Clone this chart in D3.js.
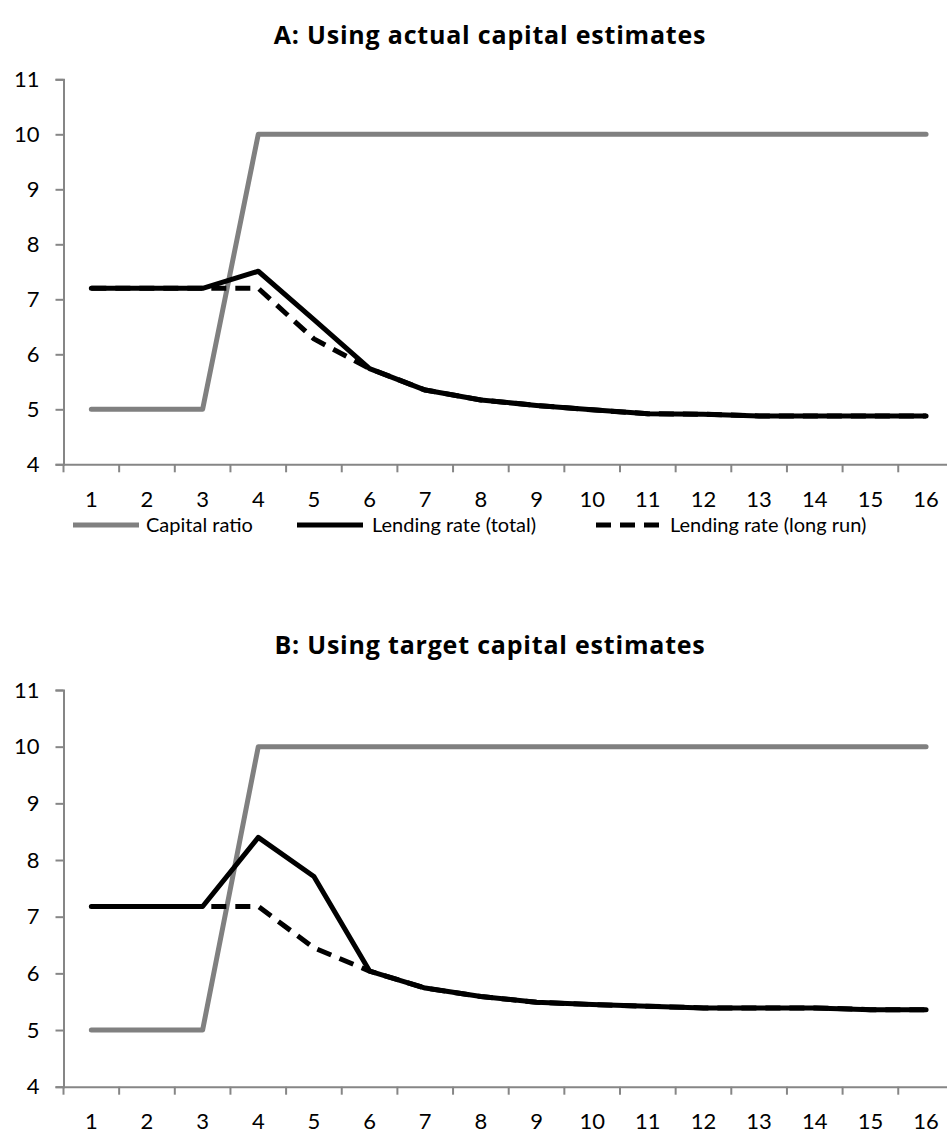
<!DOCTYPE html>
<html><head><meta charset="utf-8">
<script src="https://cdn.jsdelivr.net/npm/d3@7"></script>
<style>
body{margin:0;background:#fff;}
svg{display:block;font-family:Lato,"Open Sans",sans-serif;}
</style></head>
<body><svg id="c" width="947" height="1133"></svg>
<script>
const periods = [1,2,3,4,5,6,7,8,9,10,11,12,13,14,15,16];
const yTicks = [4,5,6,7,8,9,10,11];
const seriesNames = ["Capital ratio","Lending rate (total)","Lending rate (long run)"];
const titles = ["A: Using actual capital estimates","B: Using target capital estimates"];

const capitalA = [5,5,5,10,10,10,10,10,10,10,10,10,10,10,10,10];
const totalA   = [7.2,7.2,7.2,7.51,6.63,5.74,5.35,5.17,5.07,4.99,4.92,4.91,4.88,4.88,4.88,4.88];
const longA    = [7.2,7.2,7.2,7.2,6.28,5.74,5.35,5.17,5.07,4.99,4.92,4.91,4.88,4.88,4.88,4.88];

const capitalB = [5,5,5,10,10,10,10,10,10,10,10,10,10,10,10,10];
const totalB   = [7.18,7.18,7.18,8.4,7.71,6.04,5.74,5.59,5.49,5.45,5.42,5.39,5.39,5.39,5.36,5.36];
const longB    = [7.18,7.18,7.18,7.18,6.45,6.04,5.74,5.59,5.49,5.45,5.42,5.39,5.39,5.39,5.36,5.36];

const svg = d3.select("#c");
const axisColor = "#868686";
const styles = [
  {color:"#808080", dash:null},
  {color:"#000", dash:null},
  {color:"#000", dash:"15,9"}
];

function panel(title, titleY, yTop, yBottom, data){
  const x = d3.scaleBand().domain(periods).range([63.5, 953.9]);
  const y = d3.scaleLinear().domain([4,11]).range([yBottom, yTop]);
  const g = svg.append("g");
  g.append("text").attr("x",490).attr("y",titleY).attr("text-anchor","middle")
    .attr("font-size",25).attr("font-weight","bold").attr("fill","#000")
    .attr("letter-spacing",0.8)
    .attr("font-family","'Open Sans',sans-serif").text(title);

  // y axis
  const ya = g.append("g").attr("transform",`translate(${x.range()[0]},0)`)
    .call(d3.axisLeft(y).tickValues(yTicks).tickSize(8).tickPadding(16).tickFormat(d3.format("d")));
  ya.selectAll("path,line").attr("stroke",axisColor).attr("stroke-width",2);
  ya.selectAll("text").attr("font-size",22).attr("fill","#000").attr("font-family","Lato,sans-serif");

  // x axis: labels at band centres, ticks at band boundaries
  const xa = g.append("g").attr("transform",`translate(0,${yBottom})`)
    .call(d3.axisBottom(x).tickSize(0).tickPadding(27));
  xa.select(".domain").attr("stroke",axisColor).attr("stroke-width",2);
  xa.selectAll("text").attr("font-size",22).attr("fill","#000").attr("font-family","Lato,sans-serif");
  g.selectAll(".xt").data(periods).enter().append("line")
    .attr("x1",d=>x(d)).attr("x2",d=>x(d))
    .attr("y1",yBottom).attr("y2",yBottom+8)
    .attr("stroke",axisColor).attr("stroke-width",2);

  const line = d3.line().x((d,i)=>x(periods[i])+x.bandwidth()/2).y(d=>y(d));
  data.forEach((s,k)=>{
    g.append("path").datum(s).attr("d",line).attr("fill","none")
      .attr("stroke",styles[k].color).attr("stroke-width",5)
      .attr("stroke-linejoin","round").attr("stroke-linecap", styles[k].dash ? "butt" : "round")
      .attr("stroke-dasharray",styles[k].dash);
  });
}

panel(titles[0], 44, 79.3, 464.3, [capitalA,totalA,longA]);
panel(titles[1], 654, 690, 1086.7, [capitalB,totalB,longB]);

// legend
const legendItems = [
  {x1:73,x2:139,tx:146},
  {x1:297,x2:363,tx:372},
  {x1:596,x2:659,tx:670}
];
const lg = svg.append("g");
legendItems.forEach((d,i)=>{
  lg.append("line").attr("x1",d.x1).attr("x2",d.x2).attr("y1",525).attr("y2",525)
    .attr("stroke",styles[i].color).attr("stroke-width",5).attr("stroke-dasharray",styles[i].dash);
  lg.append("text").attr("x",d.tx).attr("y",532).attr("font-size",20).attr("fill","#000")
    .text(seriesNames[i]);
});
</script></body></html>
